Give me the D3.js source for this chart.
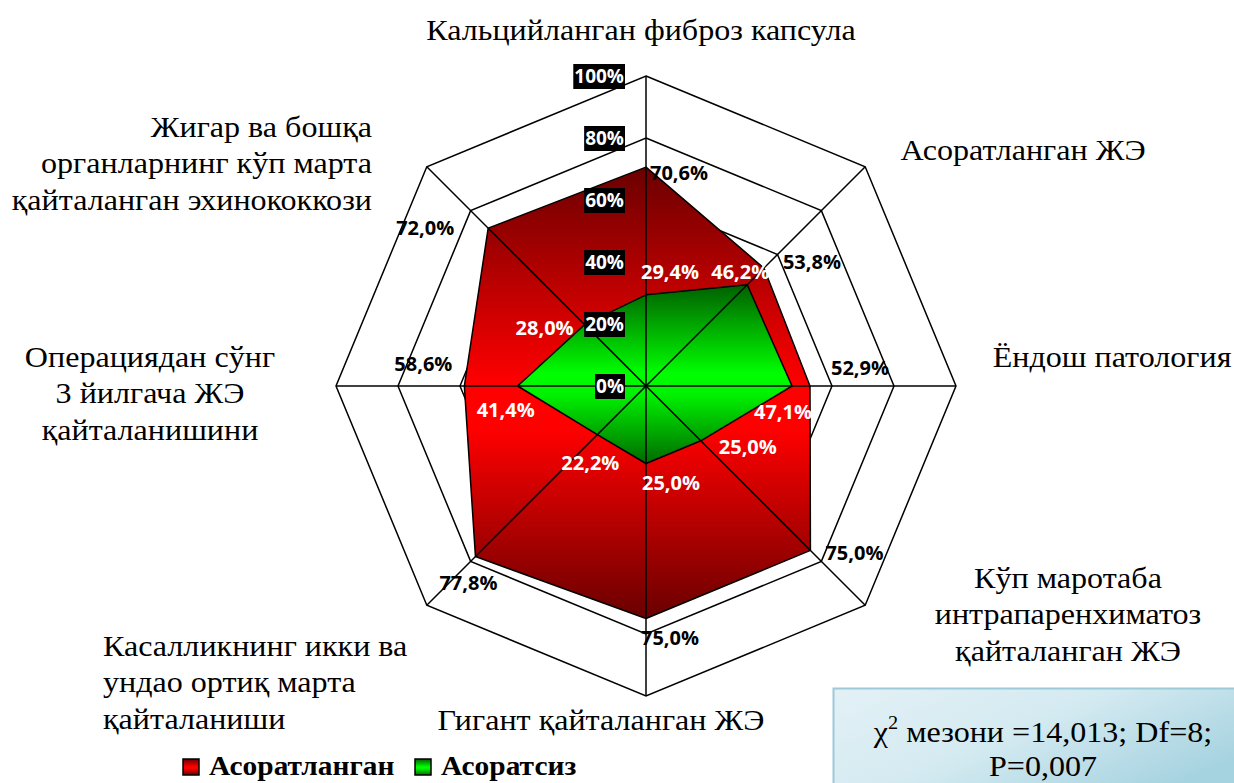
<!DOCTYPE html>
<html>
<head>
<meta charset="utf-8">
<script src="https://cdn.jsdelivr.net/npm/d3@7"></script>
<style>
  body { margin: 0; background: #fff; }
  svg { display: block; }
</style>
</head>
<body>
<div id="chart"></div>
<script>
// Radar chart: complicated vs uncomplicated recurrence groups

const categories = [
  "Кальцийланган фиброз капсула",
  "Асоратланган ЖЭ",
  "Ёндош патология",
  "Кўп маротаба интрапаренхиматоз қайталанган ЖЭ",
  "Гигант қайталанган ЖЭ",
  "Касалликнинг икки ва ундао ортиқ марта қайталаниши",
  "Операциядан сўнг 3 йилгача ЖЭ қайталанишини",
  "Жигар ва бошқа органларнинг кўп марта қайталанган эхинококкози"
];
const complicated = [70.6, 53.8, 52.9, 75.0, 75.0, 77.8, 58.6, 72.0];   // Асоратланган
const uncomplicated = [29.4, 46.2, 47.1, 25.0, 25.0, 22.2, 41.4, 28.0]; // Асоратсиз
const ticks = [0, 20, 40, 60, 80, 100];
const seriesNames = ["Асоратланган", "Асоратсиз"];

// label nudges (px) relative to each vertex, as placed in the original
const nudgeRed = [[33, 5], [48, -7], [50, -19], [44, 2], [24, 19], [-7, 26], [-41, -23], [-63, -1]];
const nudgeGreen = [[24, -23], [-7, -13], [-9, 25], [47, 6], [25, 19], [-7, 28], [-12, 23], [-40, 3]];

// category label lines and placement
const catLines = [
  { lines: ["Кальцийланган фиброз капсула"], x: 641, y: 40, anchor: "middle" },
  { lines: ["Асоратланган ЖЭ"], x: 1023, y: 160, anchor: "middle" },
  { lines: ["Ёндош патология"], x: 1112, y: 367, anchor: "middle" },
  { lines: ["Кўп маротаба", "интрапаренхиматоз", "қайталанган ЖЭ"], x: 1068, y: 588, anchor: "middle" },
  { lines: ["Гигант қайталанган ЖЭ"], x: 601, y: 730, anchor: "middle" },
  { lines: ["Касалликнинг икки ва", "ундао ортиқ марта", "қайталаниши"], x: 103, y: 656, anchor: "start" },
  { lines: ["Операциядан сўнг", "3 йилгача ЖЭ", "қайталанишини"], x: 150, y: 367, anchor: "middle" },
  { lines: ["Жигар ва бошқа", "органларнинг кўп марта", "қайталанган эхинококкози"], x: 372, y: 137, anchor: "end" }
];

const width = 1234, height = 783;
const cx = 646, cy = 386, R = 310;
const stretch = 1.07; // serif text in the original is slightly widened
const serif = "'Liberation Serif', 'Times New Roman', serif";
const labelFont = "'Open Sans', 'Noto Sans', sans-serif";

const svg = d3.select("#chart").append("svg")
  .attr("width", width)
  .attr("height", height);

const defs = svg.append("defs");

function vGrad(id, stops) {
  const g = defs.append("linearGradient").attr("id", id)
    .attr("x1", 0).attr("y1", 0).attr("x2", 0).attr("y2", 1);
  g.selectAll("stop").data(stops).join("stop")
    .attr("offset", d => d[0])
    .attr("stop-color", d => d[1]);
}
vGrad("gRed", [[0, "#6a0000"], [0.48, "#ff0000"], [0.58, "#ff0000"], [1, "#6a0000"]]);
vGrad("gGreen", [[0, "#005f00"], [0.5, "#00ff00"], [0.62, "#00f000"], [1, "#006a00"]]);

const box = defs.append("linearGradient").attr("id", "gBox")
  .attr("x1", 0).attr("y1", 0).attr("x2", 1).attr("y2", 0.6);
box.append("stop").attr("offset", 0).attr("stop-color", "#e3f1f6");
box.append("stop").attr("offset", 0.5).attr("stop-color", "#d4eaf1");
box.append("stop").attr("offset", 1).attr("stop-color", "#a6d3e0");

const n = categories.length;
const r = d3.scaleLinear().domain([0, 100]).range([0, R]);
const angle = i => (i * 2 * Math.PI) / n;
const pt = (i, v) => [cx + r(v) * Math.sin(angle(i)), cy - r(v) * Math.cos(angle(i))];

const g = svg.append("g");

// rings
g.selectAll("polygon.ring")
  .data(ticks.filter(t => t > 0))
  .join("polygon")
  .attr("class", "ring")
  .attr("points", t => d3.range(n).map(i => pt(i, t).join(",")).join(" "))
  .attr("fill", "none")
  .attr("stroke", "#000")
  .attr("stroke-width", 1.5);

// series polygons
const series = [
  { values: complicated, fill: "url(#gRed)" },
  { values: uncomplicated, fill: "url(#gGreen)" }
];
g.selectAll("polygon.series")
  .data(series)
  .join("polygon")
  .attr("class", "series")
  .attr("points", s => s.values.map((v, i) => pt(i, v).join(",")).join(" "))
  .attr("fill", s => s.fill)
  .attr("stroke", "#000")
  .attr("stroke-width", 1.5)
  .attr("stroke-linejoin", "round");

// spokes
g.selectAll("line.spoke")
  .data(d3.range(n))
  .join("line")
  .attr("class", "spoke")
  .attr("x1", cx).attr("y1", cy)
  .attr("x2", i => pt(i, 100)[0])
  .attr("y2", i => pt(i, 100)[1])
  .attr("stroke", "#000")
  .attr("stroke-width", 1.5);

// tick labels (white on black)
const tickG = g.selectAll("g.tick")
  .data(ticks)
  .join("g")
  .attr("class", "tick");
tickG.each(function (t) {
  const el = d3.select(this);
  const txt = el.append("text")
    .attr("x", cx - 22)
    .attr("y", pt(0, t)[1])
    .attr("text-anchor", "end")
    .attr("dominant-baseline", "central")
    .style("font-family", labelFont)
    .attr("font-weight", "bold")
    .attr("font-size", 19)
    .attr("fill", "#fff")
    .text(t + "%");
  const bb = txt.node().getBBox();
  el.insert("rect", "text")
    .attr("x", bb.x - 1).attr("y", pt(0, t)[1] - 12)
    .attr("width", bb.width + 2).attr("height", 25)
    .attr("fill", "#000");
});

// data labels
function dataLabels(values, nudge, color) {
  g.append("g")
    .selectAll("text")
    .data(values)
    .join("text")
    .attr("x", (v, i) => pt(i, v)[0] + nudge[i][0])
    .attr("y", (v, i) => pt(i, v)[1] + nudge[i][1])
    .attr("text-anchor", "middle")
    .attr("dominant-baseline", "central")
    .style("font-family", labelFont)
    .attr("font-weight", "bold")
    .attr("font-size", 20)
    .attr("fill", color)
    .text(v => v.toFixed(1).replace(".", ",") + "%");
}
dataLabels(complicated, nudgeRed, "#000");
dataLabels(uncomplicated, nudgeGreen, "#fff");

// category labels
svg.append("g")
  .selectAll("text")
  .data(catLines)
  .join("text")
  .attr("transform", d => `translate(${d.x},${d.y}) scale(${stretch},1)`)
  .attr("text-anchor", d => d.anchor)
  .style("font-family", serif)
  .attr("font-size", 30)
  .attr("fill", "#000")
  .each(function (d) {
    d3.select(this).selectAll("tspan")
      .data(d.lines)
      .join("tspan")
      .attr("x", 0)
      .attr("y", (l, i) => i * 36.5)
      .text(l => l);
  });

// legend
const legend = svg.append("g").attr("transform", "translate(183,759)");
const legendItems = [
  { name: seriesNames[0], fill: "url(#gRed)", x: 0 },
  { name: seriesNames[1], fill: "url(#gGreen)", x: 232 }
];
const li = legend.selectAll("g").data(legendItems).join("g")
  .attr("transform", d => `translate(${d.x},0)`);
li.append("rect")
  .attr("x", 0).attr("y", 0).attr("width", 16).attr("height", 16)
  .attr("fill", d => d.fill)
  .attr("stroke", "#000").attr("stroke-width", 1.5);
li.append("text")
  .attr("transform", `translate(26,16) scale(${stretch},1)`)
  .style("font-family", serif)
  .attr("font-weight", "bold")
  .attr("font-size", 27.5)
  .text(d => d.name);

// statistics box
const sb = svg.append("g");
sb.append("rect")
  .attr("x", 833.5).attr("y", 688.5).attr("width", 410).attr("height", 110)
  .attr("fill", "url(#gBox)")
  .attr("stroke", "#9ccad9").attr("stroke-width", 2);
const st = sb.append("text")
  .attr("transform", `translate(1043,0) scale(${stretch},1)`)
  .style("font-family", serif)
  .attr("font-size", 30)
  .attr("text-anchor", "middle");
const l1 = st.append("tspan").attr("x", 0).attr("y", 742);
l1.append("tspan").text("χ");
l1.append("tspan").attr("font-size", 19).attr("dy", -13).text("2");
l1.append("tspan").attr("dy", 13).text(" мезони =14,013; Df=8;");
st.append("tspan").attr("x", 0).attr("y", 776).text("P=0,007");
</script>
</body>
</html>
